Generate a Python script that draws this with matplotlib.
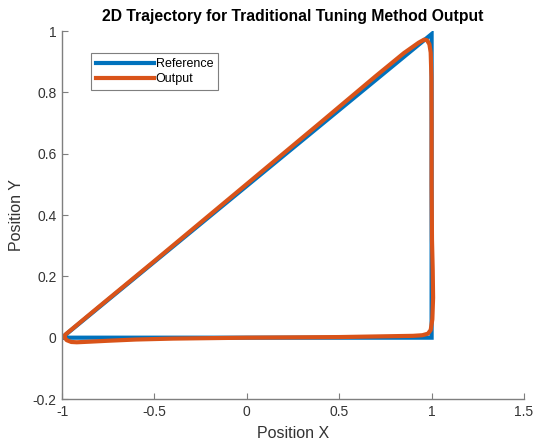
import numpy as np
import matplotlib
matplotlib.use("Agg")
import matplotlib.pyplot as plt

plt.rcParams['font.family'] = ['Liberation Sans', 'DejaVu Sans']

# --- data -------------------------------------------------------------------
ref_x = [-1.0, 1.0, 1.0, -1.0]
ref_y = [0.0, 0.0, 0.99, 0.0]

out_x = [-0.99, -0.975, -0.95, -0.92, -0.85, -0.75, -0.60, -0.40, 0.00, 0.50,
         0.90, 0.95, 0.98, 0.995, 1.004, 1.008, 1.006, 1.002, 1.000, 1.000,
         0.999, 0.995, 0.988, 0.975, 0.960, 0.930, 0.850, 0.700, 0.400, 0.000,
         -0.50, -0.80, -0.90, -0.95, -0.98, -0.99]
out_y = [0.004, -0.008, -0.014, -0.015, -0.013, -0.010, -0.006, -0.003, 0.0, 0.002,
         0.006, 0.008, 0.013, 0.025, 0.060, 0.130, 0.220, 0.320, 0.500, 0.700,
         0.850, 0.930, 0.957, 0.970, 0.972, 0.962, 0.928, 0.854, 0.702, 0.501,
         0.250, 0.101, 0.051, 0.026, 0.011, 0.004]

x_ticks = [-1, -0.5, 0, 0.5, 1, 1.5]
x_ticklabels = ['-1', '-0.5', '0', '0.5', '1', '1.5']
y_ticks = [-0.2, 0, 0.2, 0.4, 0.6, 0.8, 1]
y_ticklabels = ['-0.2', '0', '0.2', '0.4', '0.6', '0.8', '1']

# --- figure -----------------------------------------------------------------
fig = plt.figure(figsize=(5.37, 4.43), dpi=100)
ax = fig.add_axes([0.1155, 0.0993, 0.8603, 0.8307])

ax.plot(ref_x, ref_y, color='#0072BD', lw=3, label='Reference',
        solid_joinstyle='miter')
ax.plot(out_x, out_y, color='#D95319', lw=3, label='Output')

ax.set_xlim(-1, 1.5)
ax.set_ylim(-0.2, 1)
ax.set_xticks(x_ticks)
ax.set_xticklabels(x_ticklabels)
ax.set_yticks(y_ticks)
ax.set_yticklabels(y_ticklabels)

for side in ('top', 'right'):
    ax.spines[side].set_visible(False)
for side in ('left', 'bottom'):
    ax.spines[side].set_color('#7f7f7f')
    ax.spines[side].set_linewidth(1.0)
ax.tick_params(direction='in', length=4, color='#7f7f7f', labelsize=10,
               labelcolor='#333333', pad=4)

ax.set_xlabel('Position X', fontsize=11.5, color='#333333', labelpad=5)
ax.set_ylabel('Position Y', fontsize=11.5, color='#333333', labelpad=6)
ax.set_title('2D Trajectory for Traditional Tuning Method Output',
             fontsize=11.3, fontweight='bold', pad=7)

leg = ax.legend(loc='upper left', bbox_to_anchor=(0.063, 0.94), fontsize=9,
                handlelength=4.6, handletextpad=0.15, borderpad=0.4,
                labelspacing=0.25, borderaxespad=0, fancybox=False,
                framealpha=1)
leg.get_frame().set_edgecolor('#7f7f7f')
leg.get_frame().set_linewidth(0.8)

fig.savefig('out.png', dpi=100)
